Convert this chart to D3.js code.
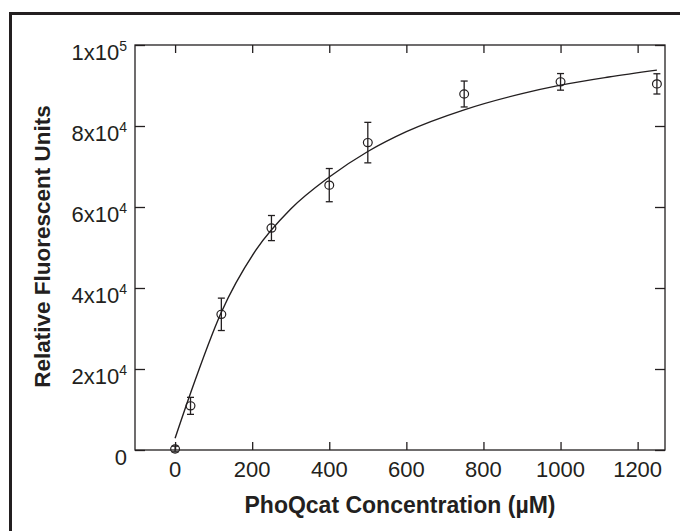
<!DOCTYPE html>
<html>
<head>
<meta charset="utf-8">
<script src="https://cdn.jsdelivr.net/npm/d3@7"></script>
<style>
  html, body { margin: 0; padding: 0; background: #fff; }
  svg { display: block; font-family: "Liberation Sans", Arial, Helvetica, sans-serif; }
</style>
</head>
<body>
<svg id="chart" width="680" height="531"></svg>
<script>
// Measured binding: concentration (µM), mean fluorescence and error
const concentration = [0, 40, 120, 250, 400, 500, 750, 1000, 1250];
const fluorescence  = [250, 10900, 33500, 54800, 65400, 75900, 87900, 90900, 90400];
const errorAmount   = [700, 2100, 4000, 3100, 4100, 5000, 3200, 2050, 2500];

// Fitted saturation curve, sampled along concentration
const fitConcentration = [0, 40, 120, 210, 300, 400, 500, 600, 750, 900, 1000, 1125, 1250];
const fitFluorescence  = [2900, 14000, 34000, 49400, 59500, 67400, 73700, 78600, 84000, 88000, 90100, 92100, 93800];

// Tick labels
const xTicks = [0, 200, 400, 600, 800, 1000, 1200];
const yTicks = [0, 20000, 40000, 60000, 80000, 100000];
const yTickMantissa = ["0", "2x10", "4x10", "6x10", "8x10", "1x10"];
const yTickExponent = ["", "4", "4", "4", "4", "5"];

const svg = d3.select("#chart");
const ink = "#231f20";
const plotLeft = 135, plotRight = 665, plotTop = 45, plotBottom = 450;

const x = d3.scaleLinear().domain([-104, 1271]).range([plotLeft, plotRight]);
const y = d3.scaleLinear().domain([0, 100000]).range([plotBottom, plotTop]);

// Outer panel frame
svg.append("path")
  .attr("d", "M10.5,531 L10.5,13.5 L680,13.5")
  .attr("fill", "none").attr("stroke", ink).attr("stroke-width", 3);

// Axes box with inward ticks on all four sides
const axisStyle = g => {
  g.select(".domain").remove();
  g.selectAll(".tick line").attr("stroke", ink).attr("stroke-width", 1.3);
  g.selectAll(".tick text").remove();
};
svg.append("g").attr("transform", `translate(0,${plotBottom})`)
  .call(d3.axisBottom(x).tickValues(xTicks).tickSizeInner(-8).tickSizeOuter(0)).call(axisStyle);
svg.append("g").attr("transform", `translate(0,${plotTop})`)
  .call(d3.axisTop(x).tickValues(xTicks).tickSizeInner(-8).tickSizeOuter(0)).call(axisStyle);
svg.append("g").attr("transform", `translate(${plotLeft},0)`)
  .call(d3.axisLeft(y).tickValues(yTicks).tickSizeInner(-10).tickSizeOuter(0)).call(axisStyle);
svg.append("g").attr("transform", `translate(${plotRight},0)`)
  .call(d3.axisRight(y).tickValues(yTicks).tickSizeInner(-10).tickSizeOuter(0)).call(axisStyle);

svg.append("rect")
  .attr("x", plotLeft).attr("y", plotTop)
  .attr("width", plotRight - plotLeft).attr("height", plotBottom - plotTop)
  .attr("fill", "none").attr("stroke", ink).attr("stroke-width", 1.3);

// X tick labels
svg.append("g").selectAll("text").data(xTicks).join("text")
  .attr("x", d => x(d)).attr("y", plotBottom + 27)
  .attr("text-anchor", "middle")
  .attr("font-size", 22).attr("fill", ink)
  .text(d => d);

// Y tick labels in scientific notation
const yl = svg.append("g").selectAll("text").data(yTicks).join("text")
  .attr("x", plotLeft - 8).attr("y", d => y(d) + 15)
  .attr("text-anchor", "end")
  .attr("font-size", 22).attr("fill", ink);
yl.append("tspan").text((d, i) => yTickMantissa[i]);
yl.append("tspan")
  .attr("font-size", 14).attr("dy", -9)
  .text((d, i) => yTickExponent[i]);

// Axis titles
svg.append("text")
  .attr("x", (plotLeft + plotRight) / 2).attr("y", 513)
  .attr("text-anchor", "middle")
  .attr("font-size", 23).attr("font-weight", "bold").attr("fill", ink)
  .text("PhoQcat Concentration (µM)");

svg.append("text")
  .attr("transform", `translate(50,${(plotTop + plotBottom) / 2 - 1}) rotate(-90)`)
  .attr("text-anchor", "middle")
  .attr("font-size", 22.5).attr("font-weight", "bold").attr("fill", ink)
  .text("Relative Fluorescent Units");

// Fit curve
const line = d3.line()
  .x((d, i) => x(fitConcentration[i]))
  .y(d => y(d))
  .curve(d3.curveMonotoneX);
svg.append("path")
  .datum(fitFluorescence)
  .attr("d", line)
  .attr("fill", "none").attr("stroke", ink).attr("stroke-width", 1.4);

// Error bars and open-circle markers
const pts = svg.append("g").selectAll("g").data(concentration).join("g");
pts.append("line")
  .attr("x1", d => x(d)).attr("x2", d => x(d))
  .attr("y1", (d, i) => y(fluorescence[i] + errorAmount[i]))
  .attr("y2", (d, i) => y(fluorescence[i] - errorAmount[i]))
  .attr("stroke", ink).attr("stroke-width", 1.3);
[1, -1].forEach(s => {
  pts.append("line")
    .attr("x1", d => x(d) - 3.5).attr("x2", d => x(d) + 3.5)
    .attr("y1", (d, i) => y(fluorescence[i] + s * errorAmount[i]))
    .attr("y2", (d, i) => y(fluorescence[i] + s * errorAmount[i]))
    .attr("stroke", ink).attr("stroke-width", 1.3);
});
pts.append("ellipse")
  .attr("cx", d => x(d))
  .attr("cy", (d, i) => y(fluorescence[i]))
  .attr("rx", 4.4).attr("ry", 4.1)
  .attr("fill", "none").attr("stroke", ink).attr("stroke-width", 1.2);
</script>
</body>
</html>
